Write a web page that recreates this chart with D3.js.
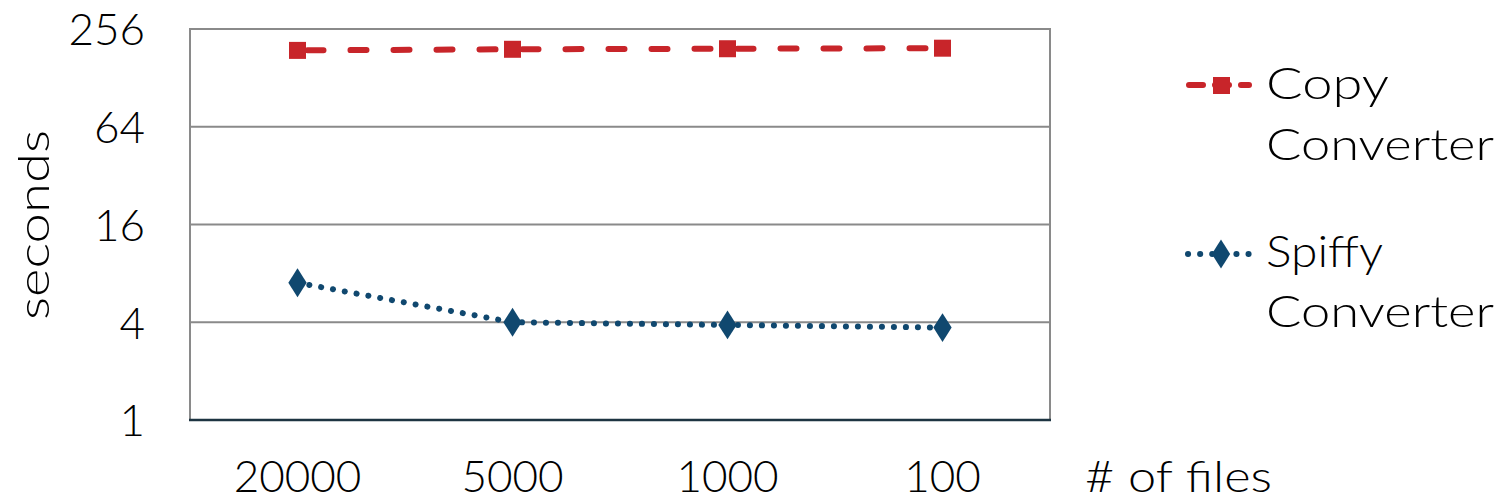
<!DOCTYPE html>
<html><head><meta charset="utf-8">
<script src="https://cdn.jsdelivr.net/npm/d3@7"></script>
<style>body{margin:0;background:#fff}svg{display:block}text{font-family:Lato,"Open Sans",sans-serif;font-weight:300;fill:#000}</style>
</head><body><svg id="c" width="1501" height="502"></svg>
<script>
const categories = ["20000","5000","1000","100"];
const copyValues = [189, 192, 193.5, 195];
const spiffyValues = [7.0, 4.0, 3.85, 3.71];
const yTicks = [1, 4, 16, 64, 256];
const seriesNames = [["Copy","Converter"],["Spiffy","Converter"]];

const svg = d3.select("#c");
const L=190,R=1050,T=29,B=420;
const x = d3.scaleBand().domain(categories).range([L,R]);
const y = d3.scaleLog().base(2).domain([1,256]).range([B,T]);
const red="#c8252a", blue="#10486f";
const FS=44;

svg.append("g").selectAll("line").data(yTicks.filter(t=>t>1)).join("line")
  .attr("x1",L).attr("x2",R).attr("y1",d=>y(d)).attr("y2",d=>y(d))
  .attr("stroke","#8a8a8a").attr("stroke-width",2);
svg.append("rect").attr("x",L).attr("y",T).attr("width",R-L).attr("height",B-T)
  .attr("fill","none").attr("stroke","#8a8a8a").attr("stroke-width",2);
svg.append("line").attr("x1",L-1).attr("x2",R+1).attr("y1",B).attr("y2",B)
  .attr("stroke","#1d3442").attr("stroke-width",2.5);

const yAxis = d3.axisLeft(y).tickValues(yTicks).tickFormat(d3.format("d")).tickSize(0).tickPadding(0);
const gy = svg.append("g").attr("transform",`translate(145,0)`).call(yAxis);
gy.select(".domain").remove();
gy.selectAll("text").attr("font-size",FS).attr("font-family","Lato").attr("font-weight",300).attr("fill","#000").attr("dy","0.36em");

const xAxis = d3.axisBottom(x).tickSize(0).tickPadding(0);
const gx = svg.append("g").attr("transform",`translate(0,492)`).call(xAxis);
gx.select(".domain").remove();
gx.selectAll("text").attr("font-size",FS).attr("font-family","Lato").attr("font-weight",300).attr("fill","#000").attr("dy",0);

svg.append("text").attr("x",1085).attr("y",492).attr("font-size",FS).attr("textLength",187).attr("lengthAdjust","spacingAndGlyphs").text("# of files");
svg.append("text").attr("transform","translate(49,225) rotate(-90)").attr("text-anchor","middle")
  .attr("font-size",FS).attr("textLength",190).attr("lengthAdjust","spacingAndGlyphs").text("seconds");

const cx = d => x(d)+x.bandwidth()/2;
const line = d3.line().x((d,i)=>cx(categories[i])).y(d=>y(d));

svg.append("path").datum(copyValues).attr("d",line).attr("fill","none").attr("stroke",red)
  .attr("stroke-width",6).attr("stroke-linecap","round").attr("stroke-dasharray","16,27").attr("stroke-dashoffset",-10);
svg.append("g").selectAll("rect").data(copyValues).join("rect")
  .attr("x",(d,i)=>cx(categories[i])-8.5).attr("y",d=>y(d)-8.5).attr("width",17).attr("height",17).attr("fill",red);

svg.append("path").datum(spiffyValues).attr("d",line).attr("fill","none").attr("stroke",blue)
  .attr("stroke-width",6).attr("stroke-linecap","round").attr("stroke-dasharray","0.1,11.9");
const dia = d3.symbol().type(d3.symbolDiamond).size(240);
svg.append("g").selectAll("path").data(spiffyValues).join("path")
  .attr("d",dia).attr("transform",(d,i)=>`translate(${cx(categories[i])},${y(d)}) scale(1.1,1)`).attr("fill",blue);

const lg = svg.append("g");
lg.append("line").attr("x1",1189).attr("x2",1249).attr("y1",85).attr("y2",85).attr("stroke",red).attr("stroke-width",6)
  .attr("stroke-linecap","round").attr("stroke-dasharray","14,12");
lg.append("rect").attr("x",1213).attr("y",77).attr("width",17).attr("height",17).attr("fill",red);
lg.append("line").attr("x1",1188).attr("x2",1250).attr("y1",254).attr("y2",254).attr("stroke",blue).attr("stroke-width",6)
  .attr("stroke-linecap","round").attr("stroke-dasharray","0.1,12");
lg.append("path").attr("d",dia).attr("transform","translate(1221,254) scale(1.1,1)").attr("fill",blue);

const legendLines = [[seriesNames[0][0],99,123],[seriesNames[0][1],160,228],[seriesNames[1][0],267,117],[seriesNames[1][1],327,228]];
lg.selectAll("text.lt").data(legendLines).join("text").attr("class","lt")
  .attr("x",1266).attr("y",d=>d[1]).attr("font-size",FS).attr("textLength",d=>d[2]).attr("lengthAdjust","spacingAndGlyphs").text(d=>d[0]);
</script></body></html>
